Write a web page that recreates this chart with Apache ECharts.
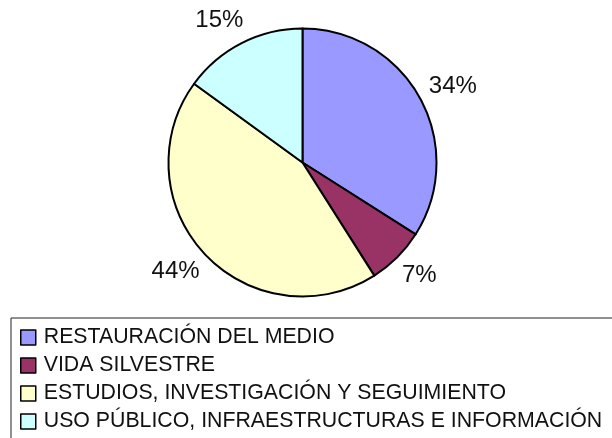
<!DOCTYPE html>
<html>
<head>
<meta charset="utf-8">
<script src="https://cdn.jsdelivr.net/npm/echarts@6/dist/echarts.min.js"></script>
<style>
  html, body { margin: 0; padding: 0; background: #fff; }
  #chart { width: 612px; height: 438px; }
</style>
</head>
<body>
<div id="chart"></div>
<script>
const categories = [
  "RESTAURACIÓN DEL MEDIO",
  "VIDA SILVESTRE",
  "ESTUDIOS, INVESTIGACIÓN Y SEGUIMIENTO",
  "USO PÚBLICO, INFRAESTRUCTURAS E INFORMACIÓN"
];
const shares = [34, 7, 44, 15];
const colors = ["#9999FF", "#993366", "#FFFFCC", "#CCFFFF"];

const chart = echarts.init(document.getElementById("chart"));
const font = "'Liberation Sans', Arial, sans-serif";

chart.setOption({
  backgroundColor: "#fff",
  animation: false,
  color: colors,
  legend: {
    orient: "vertical",
    left: 11,
    top: 318,
    width: 700,
    height: 200,
    padding: [9, 60, 60, 9],
    borderColor: "#222",
    borderWidth: 1,
    itemWidth: 15,
    itemHeight: 15,
    itemGap: 7,
    icon: "rect",
    itemStyle: { borderColor: "#000", borderWidth: 1.5 },
    textStyle: { fontFamily: font, fontSize: 21.3, color: "#111", padding: [0, 0, 0, 3] },
    data: categories
  },
  series: [
    {
      type: "pie",
      center: [302.5, 162.5],
      radius: 134,
      startAngle: 90,
      clockwise: true,
      percentPrecision: 0,
      itemStyle: { borderColor: "#000", borderWidth: 2 },
      label: {
        show: true,
        position: "outside",
        formatter: "{d}%",
        fontFamily: font,
        fontSize: 24,
        color: "#111",
        distanceToLabelLine: -13
      },
      labelLine: { show: false, length: 25, length2: 0 },
      emphasis: { disabled: true },
      data: categories.map((name, i) => ({ name: name, value: shares[i] }))
    }
  ]
});
</script>
</body>
</html>
